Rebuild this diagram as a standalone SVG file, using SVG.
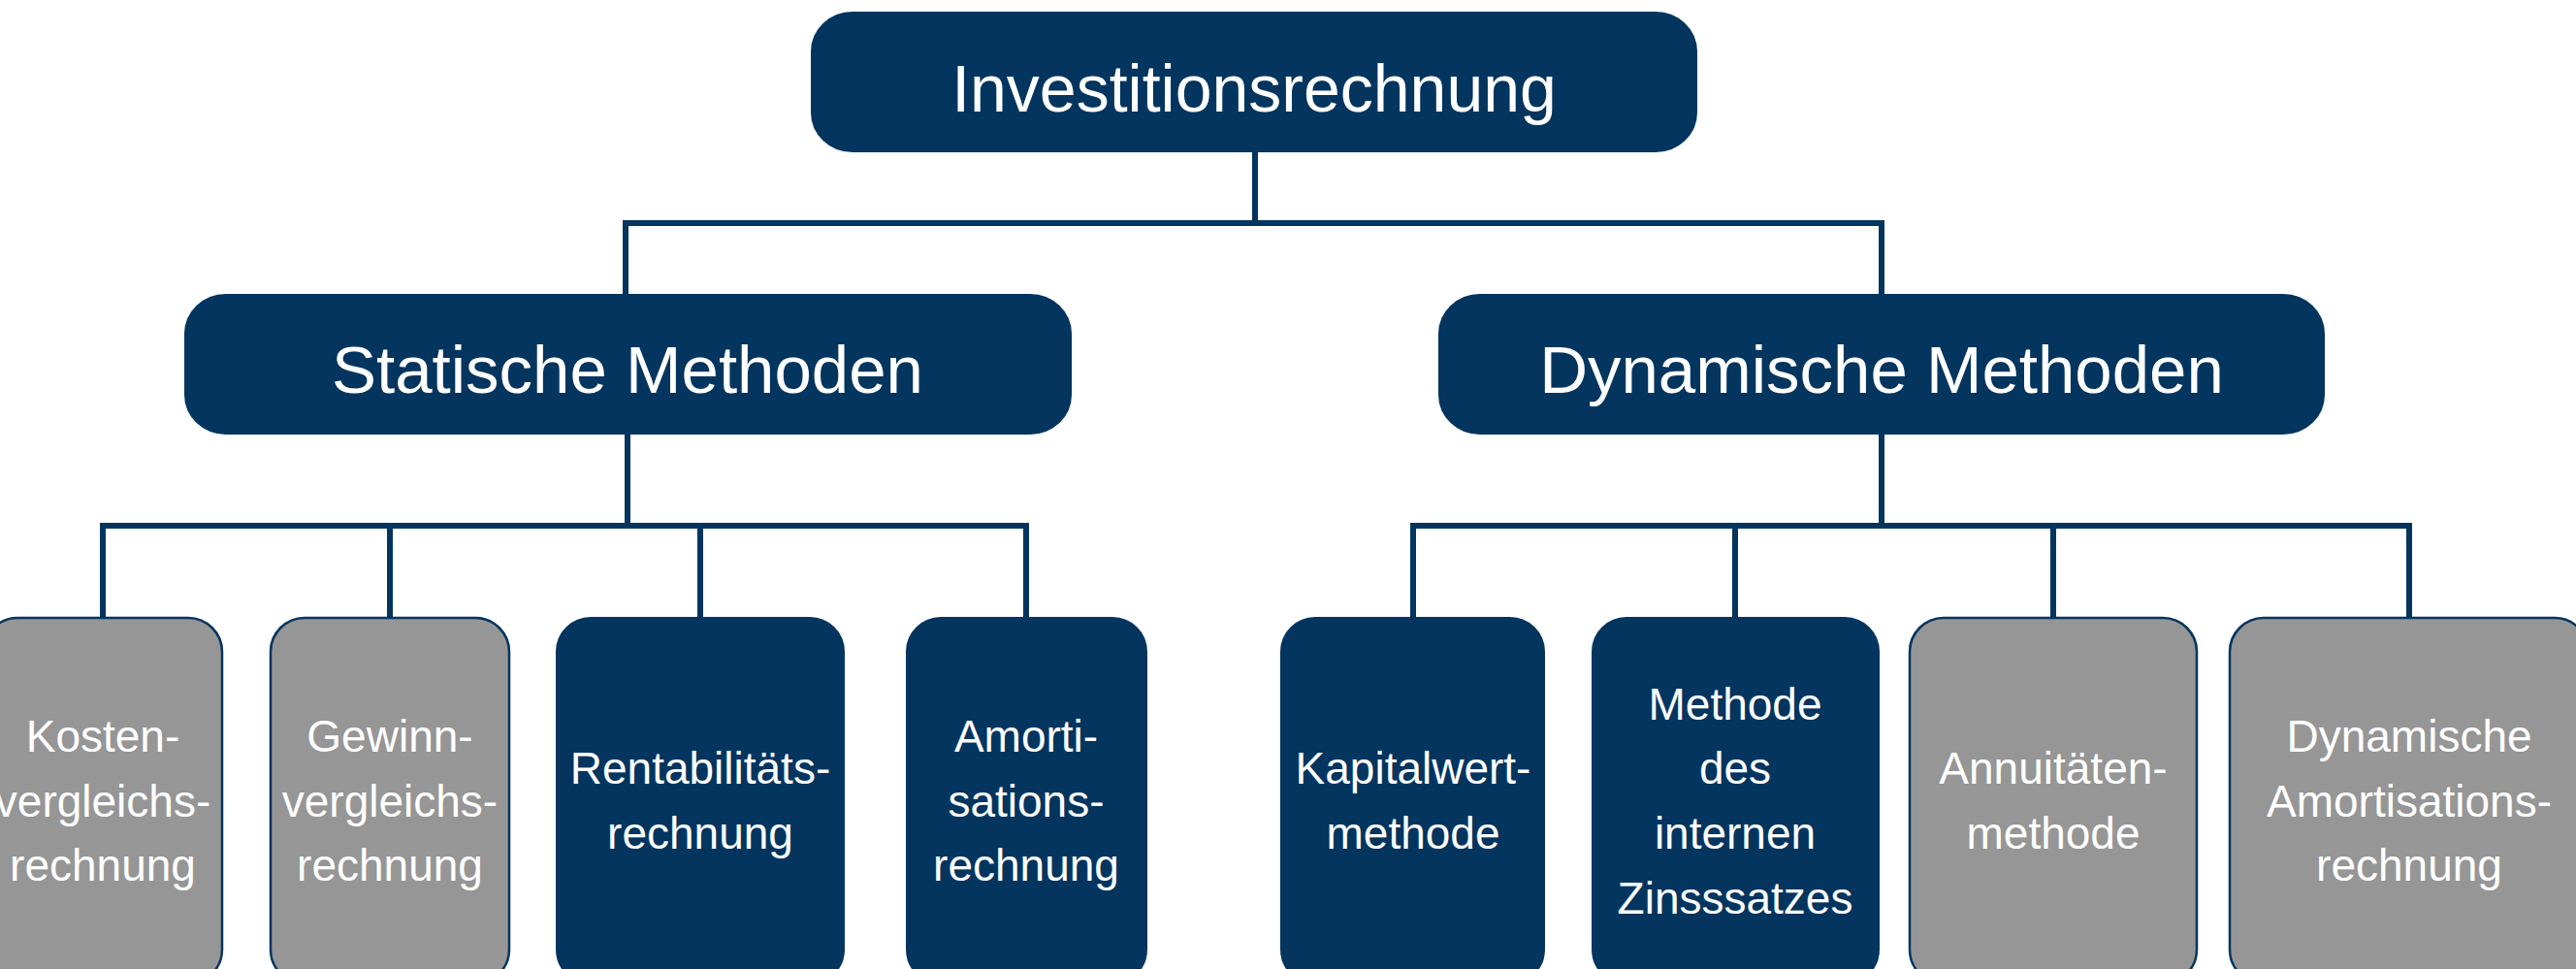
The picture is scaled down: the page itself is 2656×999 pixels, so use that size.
<svg xmlns="http://www.w3.org/2000/svg" width="2656" height="999" viewBox="0 0 2656 999">
<style>
.dark{fill:#03355f;stroke:#03355f;stroke-width:2}
.gray{fill:#969696;stroke:#03355f;stroke-width:2.5}
.t{font-family:"Liberation Sans",Arial,sans-serif;fill:#ffffff;text-anchor:middle}
.t1{font-size:68px}
.t2{font-size:69px}
.t3{font-size:46px}
.c{fill:none;stroke:#03355f;stroke-width:6;stroke-linejoin:miter;stroke-linecap:butt}
</style>
<rect width="2656" height="999" fill="#ffffff"/>
<g id="connectors">
<path class="c" d="M1294 156 V230 M645 303 V230 H1940 V303"/>
<path class="c" d="M647 447 V542 M106 637 V542 H1058 V637 M402 542 V637 M722 542 V637"/>
<path class="c" d="M1940 447 V542 M1457 637 V542 H2484 V637 M1789 542 V637 M2117 542 V637"/>
</g>
<g id="n-investitionsrechnung">
<rect class="dark" x="837" y="13" width="912" height="143" rx="42" ry="40"/>
<text class="t t1" x="1293" y="115">Investitionsrechnung</text>
</g>
<g id="n-statische">
<rect class="dark" x="191" y="304" width="913" height="143" rx="42" ry="40"/>
<text class="t t2" x="647" y="405">Statische Methoden</text>
</g>
<g id="n-dynamische">
<rect class="dark" x="1484" y="304" width="912" height="143" rx="42" ry="40"/>
<text class="t t2" x="1940" y="405">Dynamische Methoden</text>
</g>
<g id="n-kosten">
<rect class="gray" x="-17" y="637" width="246" height="377" rx="35" ry="35"/>
<text class="t t3" x="106" y="775">Kosten-</text>
<text class="t t3" x="106" y="842">vergleichs-</text>
<text class="t t3" x="106" y="908">rechnung</text>
</g>
<g id="n-gewinn">
<rect class="gray" x="279" y="637" width="246" height="377" rx="35" ry="35"/>
<text class="t t3" x="402" y="775">Gewinn-</text>
<text class="t t3" x="402" y="842">vergleichs-</text>
<text class="t t3" x="402" y="908">rechnung</text>
</g>
<g id="n-rentabilitaet">
<rect class="dark" x="574" y="637" width="296" height="377" rx="35" ry="35"/>
<text class="t t3" x="722" y="808">Rentabilitäts-</text>
<text class="t t3" x="722" y="875">rechnung</text>
</g>
<g id="n-amortisation">
<rect class="dark" x="935" y="637" width="247" height="377" rx="35" ry="35"/>
<text class="t t3" x="1058" y="775">Amorti-</text>
<text class="t t3" x="1058" y="842">sations-</text>
<text class="t t3" x="1058" y="908">rechnung</text>
</g>
<g id="n-kapitalwert">
<rect class="dark" x="1321" y="637" width="271" height="377" rx="35" ry="35"/>
<text class="t t3" x="1457" y="808">Kapitalwert-</text>
<text class="t t3" x="1457" y="875">methode</text>
</g>
<g id="n-interner-zins">
<rect class="dark" x="1642" y="637" width="295" height="377" rx="35" ry="35"/>
<text class="t t3" x="1789" y="742">Methode</text>
<text class="t t3" x="1789" y="808">des</text>
<text class="t t3" x="1789" y="875">internen</text>
<text class="t t3" x="1789" y="942">Zinsssatzes</text>
</g>
<g id="n-annuitaeten">
<rect class="gray" x="1969" y="637" width="296" height="377" rx="35" ry="35"/>
<text class="t t3" x="2117" y="808">Annuitäten-</text>
<text class="t t3" x="2117" y="875">methode</text>
</g>
<g id="n-dyn-amortisation">
<rect class="gray" x="2299" y="637" width="370" height="377" rx="35" ry="35"/>
<text class="t t3" x="2484" y="775">Dynamische</text>
<text class="t t3" x="2484" y="842">Amortisations-</text>
<text class="t t3" x="2484" y="908">rechnung</text>
</g>
</svg>
